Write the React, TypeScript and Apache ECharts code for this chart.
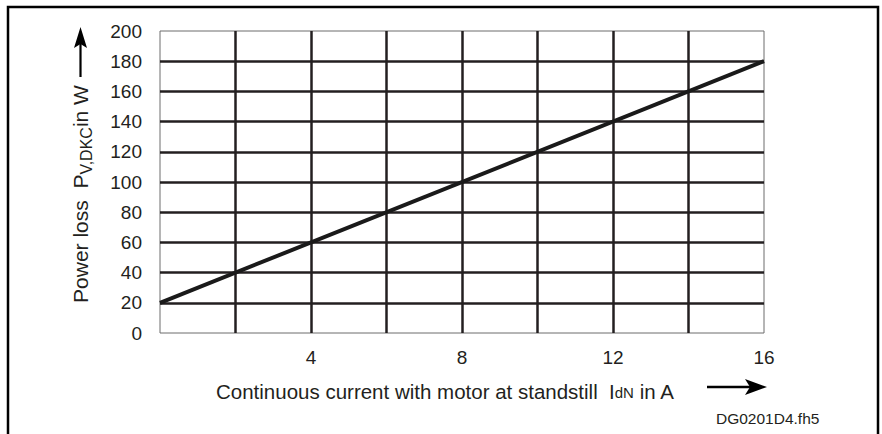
import React, { useEffect, useRef } from "react";
import * as echarts from "echarts";

const currentA = [0, 16];
const powerLossW = [20, 180];
const xTickLabels = ["4", "8", "12", "16"];
const yTitle = "Power loss";
const xTitle = "Continuous current with motor at standstill";
const footer = "DG0201D4.fh5";

const FONT = "'Liberation Sans', Arial, Helvetica, sans-serif";
const INK = "#231f20";

export default function App() {
  const ref = useRef<HTMLDivElement>(null);
  useEffect(() => {
    if (!ref.current) return;
    const chart = echarts.init(ref.current, null, { renderer: "svg" });
    const data = currentA.map((x, i) => [x, powerLossW[i]]);
    chart.setOption({
      animation: false,
      backgroundColor: "#ffffff",
      grid: {
        left: 160,
        top: 31,
        right: 118,
        bottom: 101,
        show: true,
        borderColor: "#6d6d6d",
        borderWidth: 1,
        backgroundColor: "transparent",
      },
      xAxis: {
        type: "value",
        min: 0,
        max: 16,
        interval: 2,
        axisLine: { show: false },
        axisTick: { show: false },
        axisLabel: {
          margin: 15,
          fontSize: 19,
          fontFamily: FONT,
          color: INK,
          formatter: (v: number) => (xTickLabels.includes(String(v)) ? String(v) : ""),
        },
        splitLine: {
          show: true,
          showMinLine: false,
          showMaxLine: false,
          lineStyle: { color: INK, width: 2.5 },
        },
      },
      yAxis: {
        type: "value",
        min: 0,
        max: 200,
        interval: 20,
        axisLine: { show: false },
        axisTick: { show: false },
        axisLabel: {
          margin: 18,
          fontSize: 19,
          fontFamily: FONT,
          color: INK,
        },
        splitLine: {
          show: true,
          showMinLine: false,
          showMaxLine: false,
          lineStyle: { color: INK, width: 2.5 },
        },
      },
      series: [
        {
          type: "line",
          data,
          symbol: "none",
          lineStyle: { color: "#1a1a1a", width: 4 },
          z: 5,
        },
      ],
      graphic: [
        {
          type: "rect",
          shape: { x: 8, y: 7, width: 870, height: 460 },
          style: { fill: "none", stroke: "#000", lineWidth: 2.5 },
          silent: true,
        },
        {
          type: "text",
          x: 80,
          y: 194,
          rotation: Math.PI / 2,
          style: {
            text: "{a|" + yTitle + "  P}{s|V,DKC}{a|in W}",
            align: "center",
            verticalAlign: "middle",
            fill: INK,
            rich: {
              a: { fontSize: 21, fontFamily: FONT, fill: INK, lineHeight: 28, verticalAlign: "middle" },
              s: { fontSize: 16, fontFamily: FONT, fill: INK, lineHeight: 28, verticalAlign: "bottom" },
            },
          },
        },
        {
          type: "text",
          x: 216,
          y: 391,
          style: {
            text: "{a|" + xTitle + "  I}{s|dN}{a| in A}",
            align: "left",
            verticalAlign: "middle",
            fill: INK,
            rich: {
              a: { fontSize: 20.5, fontFamily: FONT, fill: INK, lineHeight: 26, verticalAlign: "middle" },
              s: { fontSize: 15, fontFamily: FONT, fill: INK, lineHeight: 26, verticalAlign: "middle", padding: [3, 0, 0, 0] },
            },
          },
        },
        {
          type: "line",
          shape: { x1: 707, y1: 387, x2: 752, y2: 387 },
          style: { stroke: "#000", lineWidth: 2.5 },
        },
        {
          type: "polygon",
          shape: { points: [[767, 387], [745, 379], [750, 387], [745, 395]] },
          style: { fill: "#000" },
        },
        {
          type: "line",
          shape: { x1: 80.5, y1: 77, x2: 80.5, y2: 42 },
          style: { stroke: "#000", lineWidth: 2.2 },
        },
        {
          type: "polygon",
          shape: { points: [[80.5, 27], [74, 48], [80.5, 44], [87, 48]] },
          style: { fill: "#000" },
        },
        {
          type: "text",
          x: 716,
          y: 418,
          style: {
            text: footer,
            align: "left",
            verticalAlign: "middle",
            fontSize: 15.5,
            fontFamily: FONT,
            fill: INK,
          },
        },
      ],
    });
    return () => chart.dispose();
  }, []);
  return <div ref={ref} style={{ width: 882, height: 434, position: "fixed", left: 0, top: 0 }} />;
}
